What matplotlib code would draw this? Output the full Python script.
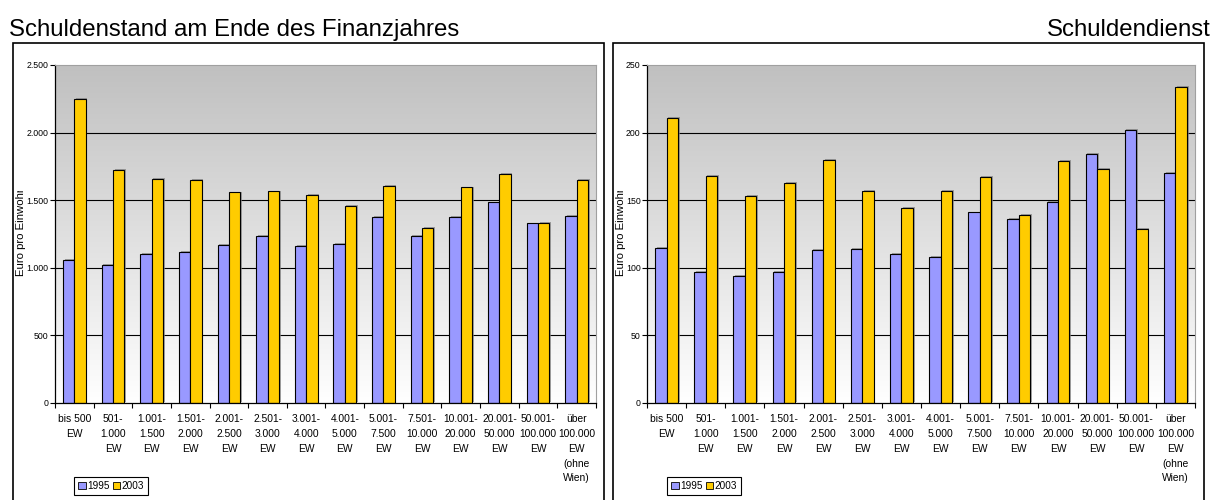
import numpy as np
import matplotlib
matplotlib.use("Agg")
import matplotlib.pyplot as plt
from matplotlib.patches import Rectangle, Patch
from matplotlib.colors import LinearSegmentedColormap
from matplotlib.ticker import FuncFormatter, FixedLocator
from matplotlib.transforms import Bbox
import matplotlib.patheffects as pe

plt.rcParams["font.family"] = ["Liberation Sans", "DejaVu Sans"]

# Gemeindegrößenklassen
categories = ["bis 500\nEW", "501-\n1.000\nEW", "1.001-\n1.500\nEW", "1.501-\n2.000\nEW",
              "2.001-\n2.500\nEW", "2.501-\n3.000\nEW", "3.001-\n4.000\nEW", "4.001-\n5.000\nEW",
              "5.001-\n7.500\nEW", "7.501-\n10.000\nEW", "10.001-\n20.000\nEW",
              "20.001-\n50.000\nEW", "50.001-\n100.000\nEW", "über\n100.000\nEW\n(ohne\nWien)"]
years = ["1995", "2003"]

# Schuldenstand, Euro pro Einwohner
stand_1995 = [1059, 1022, 1101, 1118, 1167, 1234, 1160, 1178, 1378, 1234, 1378, 1484, 1328, 1385]
stand_2003 = [2252, 1726, 1659, 1652, 1558, 1565, 1538, 1455, 1607, 1296, 1595, 1693, 1333, 1652]

# Schuldendienst, Euro pro Einwohner
dienst_1995 = [115, 97, 94, 97, 113, 114, 110, 108, 141, 136, 149, 184, 202, 170]
dienst_2003 = [211, 168, 153, 163, 180, 157, 144, 157, 167, 139, 179, 173, 129, 234]

COL_95 = "#9999ff"
COL_03 = "#ffcc00"
W = 1220
H = 500

fig = plt.figure(figsize=(W / 100, H / 100), dpi=100)

bg_cmap = LinearSegmentedColormap.from_list("bg", ["#ffffff", "#c0c0c0"])
shadow = [pe.SimplePatchShadow(offset=(1.2, 0.6), shadow_rgbFace="#808080", alpha=0.7), pe.Normal()]


def de_thousands(v, pos):
    return f"{int(v):,}".replace(",", ".")


def draw_panel(rect, frame, a, b, ymax, step, ylab_x, legend_x):
    fig.patches.append(Rectangle((frame[0], -0.1), frame[1] - frame[0], frame[2] + 0.1,
                                 transform=fig.transFigure, fill=False, edgecolor="black",
                                 linewidth=1.2, zorder=0))
    ax = fig.add_axes(rect)
    n = len(categories)
    x = np.arange(n)
    ax.imshow(np.linspace(0, 1, 256).reshape(-1, 1), cmap=bg_cmap, origin="lower",
              extent=[-0.5, n - 0.5, 0, ymax], aspect="auto", zorder=0)
    for yv in np.arange(step, ymax, step):
        ax.axhline(yv, color="black", linewidth=0.8, zorder=1)
    w = 0.293
    ax.bar(x - w / 2, a, w, color=COL_95, edgecolor="black", linewidth=0.8, zorder=2,
           path_effects=shadow)
    ax.bar(x + w / 2, b, w, color=COL_03, edgecolor="black", linewidth=0.8, zorder=2,
           path_effects=shadow)
    ax.set_xlim(-0.5, n - 0.5)
    ax.set_ylim(0, ymax)

    ax.set_yticks(np.arange(0, ymax + 1, step))
    ax.yaxis.set_major_formatter(FuncFormatter(de_thousands))
    ax.tick_params(axis="y", direction="out", length=3.6, width=0.8, pad=1, labelsize=6.3)
    ax.set_xticks(x)
    ax.set_xticklabels(categories, fontsize=7.4, linespacing=1.6, va="top")
    ax.tick_params(axis="x", which="major", length=0, pad=8)
    ax.xaxis.set_minor_locator(FixedLocator(np.arange(-0.5, n, 1.0)))
    ax.tick_params(axis="x", which="minor", direction="out", length=3.6, width=0.8)

    for side in ("top", "right"):
        ax.spines[side].set_color("#a0a0a0")
        ax.spines[side].set_linewidth(0.8)
    for side in ("left", "bottom"):
        ax.spines[side].set_color("black")
        ax.spines[side].set_linewidth(0.9)

    # Achsentitel wird oben vom Diagrammbereich abgeschnitten
    t = fig.text(ylab_x / W, 1 - 276 / H, "Euro pro Einwohner", rotation=90,
                 ha="center", va="bottom", fontsize=8.2)
    t.set_clip_box(Bbox.from_extents(0, 0, W, H - 191))
    t.set_clip_on(True)

    handles = [Patch(facecolor=COL_95, edgecolor="black", linewidth=0.6),
               Patch(facecolor=COL_03, edgecolor="black", linewidth=0.6)]
    leg = fig.legend(handles, years, loc="center left",
                     bbox_to_anchor=(legend_x / W, 1 - 486 / H), ncol=2, fontsize=7.2,
                     frameon=True, fancybox=False, edgecolor="black", framealpha=1,
                     handlelength=0.75, handleheight=0.75, handletextpad=0.15,
                     columnspacing=0.3, borderpad=0.4, borderaxespad=0)
    leg.get_frame().set_linewidth(0.8)
    return ax


draw_panel([55 / W, 1 - 403 / H, 541 / W, 338 / H], (13 / W, 604 / W, 1 - 43 / H),
           stand_1995, stand_2003, 2500, 500, 21, 74)
draw_panel([647 / W, 1 - 403 / H, 548 / W, 338 / H], (613 / W, 1204 / W, 1 - 43 / H),
           dienst_1995, dienst_2003, 250, 50, 621, 667)

fig.text(9 / W, 1 - 30 / H, "Schuldenstand am Ende des Finanzjahres", fontsize=17.3,
         ha="left", va="center")
fig.text(1211 / W, 1 - 30 / H, "Schuldendienst", fontsize=17.3, ha="right", va="center")

fig.savefig("out.png", dpi=100)
